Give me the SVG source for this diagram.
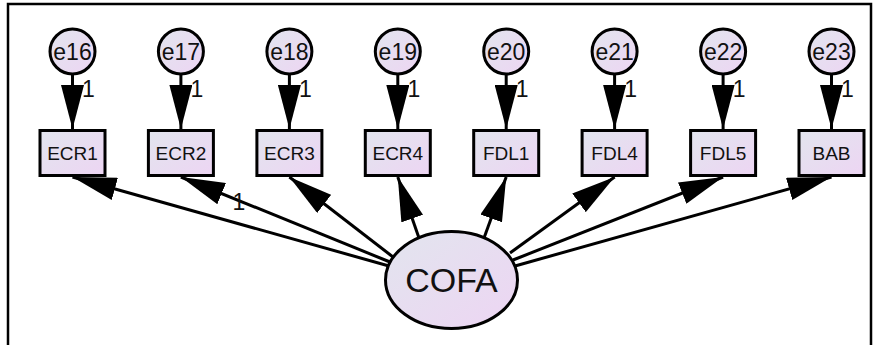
<svg xmlns="http://www.w3.org/2000/svg" width="881" height="345" viewBox="0 0 881 345">
<defs>
<linearGradient id="fill" x1="0" y1="0" x2="1" y2="1">
<stop offset="0" stop-color="#e2e5ee"/>
<stop offset="1" stop-color="#edd5f3"/>
</linearGradient>
<marker id="ah" markerUnits="userSpaceOnUse" viewBox="0 0 44 23" markerWidth="44" markerHeight="23" refX="44" refY="11.5" orient="auto">
<path d="M0,0 L44,11.5 L0,23 z" fill="#000"/>
</marker>
</defs>
<style>
.frame{fill:none;stroke:#000;stroke-width:2.5}
.node{fill:url(#fill);stroke:#000;stroke-width:3}
.edge{stroke:#000;stroke-width:3;fill:none;marker-end:url(#ah)}
.t{font-family:"Liberation Sans",Arial,sans-serif;fill:#111;text-anchor:middle}
.ct{font-size:23px}
.rt{font-size:19px}
.lt{font-size:23px}
.big{font-size:34px}
</style>
<rect width="881" height="345" fill="#fff"/>
<path class="frame" d="M8,350 V4 H871 V350"/>
<g id="connectors">
<line class="edge" x1="72.5" y1="74" x2="72.5" y2="129"/>
<line class="edge" x1="180.9" y1="74" x2="180.9" y2="129"/>
<line class="edge" x1="289.4" y1="74" x2="289.4" y2="129"/>
<line class="edge" x1="397.8" y1="74" x2="397.8" y2="129"/>
<line class="edge" x1="506.2" y1="74" x2="506.2" y2="129"/>
<line class="edge" x1="614.6" y1="74" x2="614.6" y2="129"/>
<line class="edge" x1="723.1" y1="74" x2="723.1" y2="129"/>
<line class="edge" x1="831.5" y1="74" x2="831.5" y2="129"/>
<line class="edge" x1="389" y1="266" x2="72.5" y2="177"/>
<line class="edge" x1="390" y1="262" x2="180.9" y2="177"/>
<line class="edge" x1="393" y1="257" x2="289.4" y2="177"/>
<line class="edge" x1="419" y1="238" x2="397.8" y2="177"/>
<line class="edge" x1="484" y1="238" x2="506.2" y2="177"/>
<line class="edge" x1="510" y1="253" x2="614.6" y2="177"/>
<line class="edge" x1="513" y1="260" x2="723.1" y2="177"/>
<line class="edge" x1="515" y1="266" x2="831.5" y2="177"/>
<text class="t lt" x="88.5" y="97">1</text>
<text class="t lt" x="196.9" y="97">1</text>
<text class="t lt" x="305.4" y="97">1</text>
<text class="t lt" x="413.8" y="97">1</text>
<text class="t lt" x="522.2" y="97">1</text>
<text class="t lt" x="630.6" y="97">1</text>
<text class="t lt" x="739.1" y="97">1</text>
<text class="t lt" x="847.5" y="97">1</text>
<text class="t lt" x="239" y="210">1</text>
</g>
<g id="e16"><circle class="node" cx="72.5" cy="51.5" r="22.5"/><text class="t ct" x="72.5" y="59.5">e16</text></g>
<g id="e17"><circle class="node" cx="180.9" cy="51.5" r="22.5"/><text class="t ct" x="180.9" y="59.5">e17</text></g>
<g id="e18"><circle class="node" cx="289.4" cy="51.5" r="22.5"/><text class="t ct" x="289.4" y="59.5">e18</text></g>
<g id="e19"><circle class="node" cx="397.8" cy="51.5" r="22.5"/><text class="t ct" x="397.8" y="59.5">e19</text></g>
<g id="e20"><circle class="node" cx="506.2" cy="51.5" r="22.5"/><text class="t ct" x="506.2" y="59.5">e20</text></g>
<g id="e21"><circle class="node" cx="614.6" cy="51.5" r="22.5"/><text class="t ct" x="614.6" y="59.5">e21</text></g>
<g id="e22"><circle class="node" cx="723.1" cy="51.5" r="22.5"/><text class="t ct" x="723.1" y="59.5">e22</text></g>
<g id="e23"><circle class="node" cx="831.5" cy="51.5" r="22.5"/><text class="t ct" x="831.5" y="59.5">e23</text></g>
<g id="ECR1"><rect class="node" x="40" y="130.5" width="65" height="45"/><text class="t rt" x="72.5" y="160">ECR1</text></g>
<g id="ECR2"><rect class="node" x="148.4" y="130.5" width="65" height="45"/><text class="t rt" x="180.9" y="160">ECR2</text></g>
<g id="ECR3"><rect class="node" x="256.9" y="130.5" width="65" height="45"/><text class="t rt" x="289.4" y="160">ECR3</text></g>
<g id="ECR4"><rect class="node" x="365.3" y="130.5" width="65" height="45"/><text class="t rt" x="397.8" y="160">ECR4</text></g>
<g id="FDL1"><rect class="node" x="473.7" y="130.5" width="65" height="45"/><text class="t rt" x="506.2" y="160">FDL1</text></g>
<g id="FDL4"><rect class="node" x="582.1" y="130.5" width="65" height="45"/><text class="t rt" x="614.6" y="160">FDL4</text></g>
<g id="FDL5"><rect class="node" x="690.6" y="130.5" width="65" height="45"/><text class="t rt" x="723.1" y="160">FDL5</text></g>
<g id="BAB"><rect class="node" x="799" y="130.5" width="65" height="45"/><text class="t rt" x="831.5" y="160">BAB</text></g>
<g id="COFA"><ellipse class="node" cx="451.5" cy="280" rx="66" ry="48.5"/><text class="t big" x="451.5" y="292">COFA</text></g>
</svg>
